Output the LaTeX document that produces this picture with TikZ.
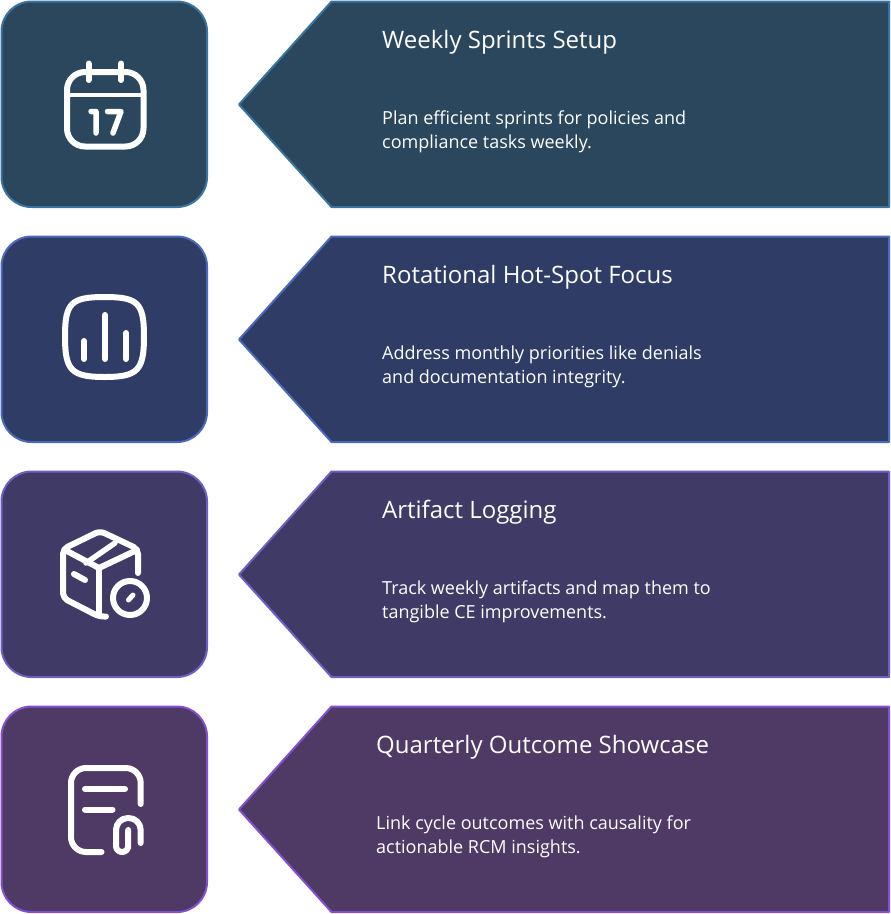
\documentclass[tikz,border=0pt]{standalone}
\usepackage{fontspec}
\setmainfont{Open Sans}
\definecolor{fa}{HTML}{2A475E}\definecolor{ba}{HTML}{3A749E}
\definecolor{fb}{HTML}{2E3C66}\definecolor{bb}{HTML}{4A68BC}
\definecolor{fc}{HTML}{3F3A66}\definecolor{bc}{HTML}{705EC8}
\definecolor{fd}{HTML}{4F3965}\definecolor{bd}{HTML}{8250D0}
\tikzset{
 x=1pt,y=-1pt,
 panel/.style={line width=2pt,line join=round},
 titletext/.style={anchor=base west,inner sep=0pt,text=white,font=\fontsize{24}{24}\selectfont},
 bodytext/.style={anchor=base west,inner sep=0pt,text=white,align=left,font=\fontsize{18}{24}\selectfont},
 icon/.style={draw=white,line width=6pt,line cap=round,line join=round},
}
\newcommand{\rowshapes}[3]{%
 \begin{scope}[yshift=-#1pt]
 \draw[panel,fill=#2,draw=#3,rounded corners=30pt] (1.5,1.5) rectangle (207,207);
 \draw[panel,fill=#2,draw=#3] (889,1.5)--(331.5,1.5)--(239,104.5)--(331.5,207)--(889,207)--cycle;
 \end{scope}}
\begin{document}
\begin{tikzpicture}
\useasboundingbox (0,0) rectangle (891,914);
\rowshapes{0}{fa}{ba}
\rowshapes{235}{fb}{bb}
\rowshapes{470}{fc}{bc}
\rowshapes{705}{fd}{bd}
% texts
\node[titletext] (t1) at (382,48) {Weekly Sprints Setup};
\node[bodytext,anchor=north west] (b1) at (382,110.6) {Plan efficient sprints for policies and\\compliance tasks weekly.};
\node[titletext] (t2) at (382,283) {Rotational Hot-Spot Focus};
\node[bodytext,anchor=north west] (b2) at (382,345.6) {Address monthly priorities like denials\\and documentation integrity.};
\node[titletext] (t3) at (382,518) {Artifact Logging};
\node[bodytext,anchor=north west] (b3) at (382,580.6) {Track weekly artifacts and map them to\\tangible CE improvements.};
\node[titletext] (t4) at (376,753) {Quarterly Outcome Showcase};
\node[bodytext,anchor=north west] (b4) at (376,815.6) {Link cycle outcomes with causality for\\actionable RCM insights.};
% calendar
\draw[icon,rounded corners=18pt] (67,72) rectangle (143.5,146.5);
\draw[icon,line width=4pt] (67,95)--(143.5,95);
\draw[icon] (88.5,63.5)--(88.5,80) (121,63.5)--(121,80);
\draw[icon,line width=5.5pt] (91,111.5)--(96,111.5)--(96,133) (107.5,111.5)--(121,111.5)--(113,133);
% bars
\draw[icon] (65,336.5) .. controls (65,303) and (71,297) .. (104.5,297) .. controls (138,297) and (144,303) .. (144,336.5) .. controls (144,370) and (138,377) .. (104.5,377) .. controls (71,377) and (65,370) .. (65,336.5) -- cycle;
\draw[icon] (84,341)--(84,359) (105,315)--(105,359) (126,333)--(126,359);
% box
\draw[icon,rounded corners=5pt] (138,573)--(138,549)--(100,531)--(63,549)--(63,598)--(99,616.5)--(106,616.5);
\draw[icon] (65,550)--(99,568)--(137,550);
\draw[icon] (99,568)--(99,615);
\draw[icon,line width=5.5pt] (86,563)--(115,543);
\draw[icon] (74,574)--(85,580);
\draw[icon] (130,598) circle (17);
\draw[icon,line width=5pt] (128.5,600)--(133,595);
% document
\draw[icon,rounded corners=15pt] (101.5,852)--(71,852)--(71,768)--(140.7,768)--(140.7,804);
\draw[icon] (85,789)--(125,789) (85,809.5)--(112.5,809.5);
\draw[icon,rounded corners=12pt] (140.7,843)--(140.7,818)--(116,818)--(116,830);
\draw[icon,rounded corners=6pt] (116,830)--(116,852)--(128.2,852)--(128.2,830);
\end{tikzpicture}
\end{document}
